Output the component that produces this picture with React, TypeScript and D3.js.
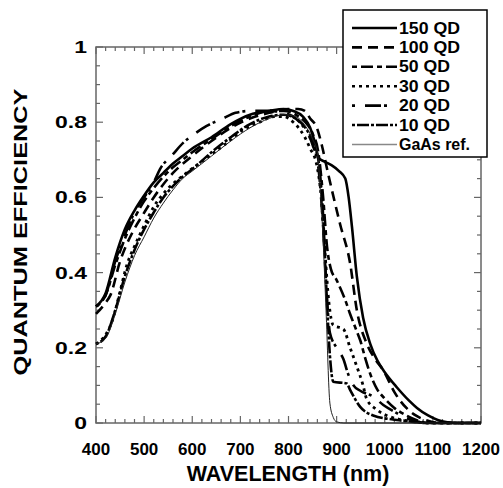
import React from "react";
import * as d3 from "d3";

type Pt = [number, number];

const qd150: Pt[] = [
  [400, 0.31], [420, 0.345], [440, 0.44], [460, 0.515], [480, 0.565], [500, 0.605], [520, 0.64], [540, 0.665],
  [560, 0.69], [580, 0.71], [600, 0.73], [640, 0.76], [680, 0.795], [720, 0.82], [760, 0.83], [790, 0.835],
  [810, 0.83], [830, 0.815], [845, 0.785], [855, 0.745], [862, 0.705], [875, 0.695], [890, 0.685], [905, 0.67],
  [918, 0.65], [925, 0.6], [932, 0.52], [942, 0.39], [955, 0.28], [970, 0.21], [985, 0.165], [1000, 0.135],
  [1025, 0.095], [1050, 0.06], [1067, 0.04], [1090, 0.02], [1110, 0.008], [1130, 0.002], [1150, 0], [1200, 0],
];
const qd100: Pt[] = [
  [400, 0.29], [420, 0.32], [430, 0.34], [450, 0.43], [477, 0.51], [498, 0.555], [520, 0.6], [540, 0.635],
  [560, 0.665], [600, 0.71], [640, 0.75], [680, 0.785], [720, 0.81], [760, 0.825], [800, 0.835], [820, 0.835],
  [834, 0.83], [845, 0.81], [859, 0.785], [869, 0.74], [882, 0.665], [907, 0.53], [928, 0.425], [942, 0.3],
  [963, 0.21], [980, 0.17], [997, 0.14], [1021, 0.08], [1045, 0.04], [1067, 0.018], [1090, 0.006], [1110, 0], [1200, 0],
];
const qd50: Pt[] = [
  [400, 0.31], [420, 0.34], [440, 0.42], [460, 0.49], [480, 0.545], [500, 0.59], [520, 0.625], [540, 0.655],
  [560, 0.68], [580, 0.7], [600, 0.72], [640, 0.755], [680, 0.79], [720, 0.815], [760, 0.83], [790, 0.83],
  [815, 0.82], [835, 0.8], [850, 0.77], [862, 0.72], [872, 0.6], [880, 0.47], [888, 0.41], [900, 0.38],
  [917, 0.33], [928, 0.29], [940, 0.25], [949, 0.22], [960, 0.17], [970, 0.13], [984, 0.09], [1000, 0.065],
  [1020, 0.04], [1045, 0.02], [1070, 0.006], [1090, 0], [1200, 0],
];
const qd30: Pt[] = [
  [400, 0.21], [420, 0.235], [436, 0.28], [450, 0.35], [464, 0.42], [480, 0.47], [500, 0.525], [520, 0.575],
  [547, 0.62], [588, 0.665], [630, 0.705], [672, 0.745], [706, 0.78], [740, 0.8], [770, 0.815], [790, 0.815],
  [810, 0.8], [824, 0.78], [834, 0.76], [845, 0.73], [858, 0.69], [868, 0.6], [876, 0.45], [884, 0.32],
  [893, 0.26], [914, 0.25], [928, 0.2], [942, 0.15], [955, 0.1], [962, 0.065], [984, 0.035], [1004, 0.02],
  [1030, 0.01], [1060, 0.004], [1090, 0], [1200, 0],
];
const qd20: Pt[] = [
  [400, 0.31], [420, 0.34], [440, 0.43], [460, 0.5], [480, 0.56], [500, 0.6], [520, 0.64], [533, 0.675],
  [560, 0.715], [581, 0.745], [606, 0.77], [630, 0.79], [664, 0.81], [690, 0.825], [720, 0.83], [760, 0.83],
  [790, 0.825], [815, 0.81], [835, 0.78], [850, 0.74], [862, 0.68], [872, 0.52], [880, 0.33], [886, 0.24],
  [900, 0.2], [914, 0.17], [924, 0.13], [935, 0.1], [950, 0.085], [976, 0.07], [997, 0.048], [1020, 0.03],
  [1040, 0.016], [1065, 0.005], [1085, 0], [1200, 0],
];
const qd10: Pt[] = [
  [400, 0.21], [420, 0.23], [440, 0.3], [460, 0.39], [480, 0.46], [500, 0.515], [520, 0.56], [540, 0.6],
  [560, 0.63], [580, 0.655], [600, 0.675], [640, 0.72], [680, 0.76], [720, 0.795], [760, 0.815], [790, 0.82],
  [815, 0.81], [835, 0.785], [850, 0.75], [862, 0.7], [872, 0.55], [880, 0.32], [886, 0.18], [893, 0.11],
  [921, 0.105], [928, 0.088], [949, 0.043], [976, 0.02], [1025, 0.008], [1060, 0.003], [1080, 0], [1200, 0],
];
const gaas: Pt[] = [
  [400, 0.21], [420, 0.225], [440, 0.29], [460, 0.375], [480, 0.445], [500, 0.495], [520, 0.545], [540, 0.585],
  [560, 0.62], [580, 0.65], [600, 0.67], [640, 0.71], [680, 0.75], [720, 0.785], [760, 0.81], [790, 0.82],
  [815, 0.815], [835, 0.79], [850, 0.755], [860, 0.72], [866, 0.62], [871, 0.51], [878, 0.3], [886, 0.053],
  [893, 0.015], [900, 0.003], [915, 0], [1200, 0],
];

const seriesNames = ["150 QD", "100 QD", "50 QD", "30 QD", "20 QD", "10 QD", "GaAs ref."];
const seriesData = [qd150, qd100, qd50, qd30, qd20, qd10, gaas];
const seriesDash = ["", "10,6", "5,4,12,4", "3,4", "3,10,16,3", "3,2,12,2", ""];
const seriesWidth = [2.6, 2.6, 2.6, 2.8, 2.6, 2.6, 1];
const seriesColor = ["#000", "#000", "#000", "#000", "#000", "#000", "#222"];
const legendColor = ["#000", "#000", "#000", "#000", "#000", "#000", "#888"];

const xTicks = [400, 500, 600, 700, 800, 900, 1000, 1100, 1200];
const yTicks = [0, 0.2, 0.4, 0.6, 0.8, 1];
const yTickLabels = ["0", "0.2", "0.4", "0.6", "0.8", "1"];

const FONT = "'Liberation Sans', Arial, Helvetica, sans-serif";

export default function App() {
  const x = d3.scaleLinear().domain([400, 1200]).range([96, 481]);
  const y = d3.scaleLinear().domain([0, 1]).range([423, 47]);
  const line = d3
    .line<Pt>()
    .x((d) => x(d[0]))
    .y((d) => y(d[1]))
    .curve(d3.curveMonotoneX);

  const xMinor = d3.range(400, 1201, 20);
  const yMinor = d3.range(0, 1.0001, 0.05);
  const axisColor = "#666";

  return (
    <svg width={503} height={488} style={{ position: "absolute", left: 0, top: 0 }}>
      <rect x={0} y={0} width={503} height={488} fill="#fff" />
      <rect x={x(400)} y={y(1)} width={x(1200) - x(400)} height={y(0) - y(1)} fill="none" stroke={axisColor} strokeWidth={1.5} />
      {xMinor.map((v, i) => {
        const major = Math.abs(v % 100) < 1e-6;
        const len = major ? 7 : 4;
        return (
          <g key={"xt" + i}>
            <line x1={x(v)} x2={x(v)} y1={y(0)} y2={y(0) - len} stroke={axisColor} strokeWidth={1.2} />
            <line x1={x(v)} x2={x(v)} y1={y(1)} y2={y(1) + len} stroke={axisColor} strokeWidth={1.2} />
          </g>
        );
      })}
      {yMinor.map((v, i) => {
        const major = i % 4 === 0;
        const len = major ? 7 : 4;
        return (
          <g key={"yt" + i}>
            <line x1={x(400)} x2={x(400) + len} y1={y(v)} y2={y(v)} stroke={axisColor} strokeWidth={1.2} />
            <line x1={x(1200)} x2={x(1200) - len} y1={y(v)} y2={y(v)} stroke={axisColor} strokeWidth={1.2} />
          </g>
        );
      })}
      {seriesData.map((d, i) => (
        <path
          key={"s" + i}
          d={line(d) || ""}
          fill="none"
          stroke={seriesColor[i]}
          strokeWidth={seriesWidth[i]}
          strokeDasharray={seriesDash[i] || undefined}
          strokeLinejoin="round"
        />
      ))}
      {xTicks.map((v) => (
        <text key={"xl" + v} x={x(v)} y={455} textAnchor="middle" fontFamily={FONT} fontWeight="bold" fontSize={17}>
          {v}
        </text>
      ))}
      {yTicks.map((v, i) => (
        <text
          key={"yl" + v}
          transform={`translate(87,${y(v) + 6}) scale(1.35,1)`}
          textAnchor="end"
          fontFamily={FONT}
          fontWeight="bold"
          fontSize={17}
        >
          {yTickLabels[i]}
        </text>
      ))}
      <text x={288} y={481} textAnchor="middle" fontFamily={FONT} fontWeight="bold" fontSize={21.5}>
        WAVELENGTH (nm)
      </text>
      <text
        transform={`translate(27,${232}) rotate(-90)`}
        textAnchor="middle"
        fontFamily={FONT}
        fontWeight="bold"
        fontSize={19}
        textLength={287}
        lengthAdjust="spacingAndGlyphs"
      >
        QUANTUM EFFICIENCY
      </text>
      <rect x={343} y={10} width={144} height={147} fill="#fff" stroke="#000" strokeWidth={1.5} />
      {seriesNames.map((name, i) => {
        const cy = 28 + i * 19.4;
        return (
          <g key={"lg" + i}>
            <line
              x1={352}
              x2={397}
              y1={cy}
              y2={cy}
              stroke={legendColor[i]}
              strokeWidth={i === 6 ? 1.5 : 2.6}
              strokeDasharray={seriesDash[i] || undefined}
            />
            <text x={399} y={cy + 5.5} fontFamily={FONT} fontWeight="bold" fontSize={16.5} textLength={name.length > 6 ? 71 : name.length === 6 ? 61 : 51} lengthAdjust="spacingAndGlyphs">
              {name}
            </text>
          </g>
        );
      })}
    </svg>
  );
}
